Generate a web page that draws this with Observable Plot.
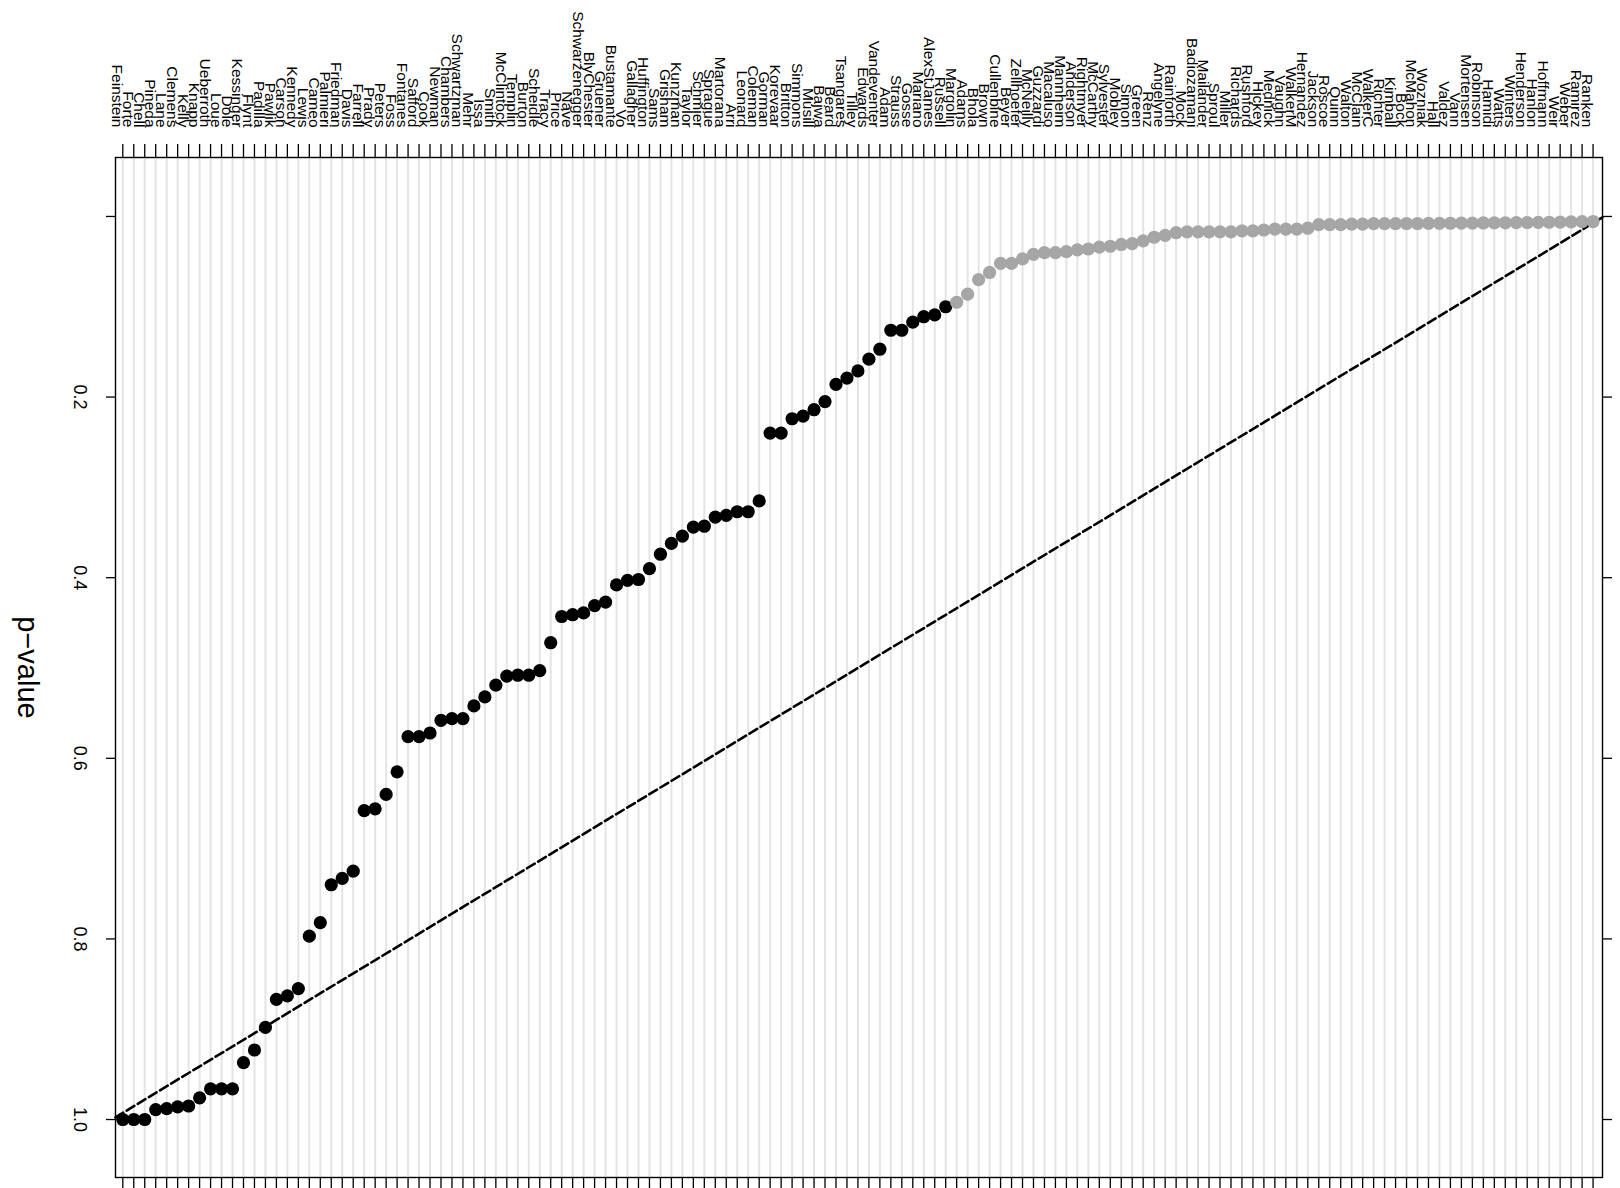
<!DOCTYPE html>
<html><head><meta charset="utf-8">
<script src="https://cdn.jsdelivr.net/npm/d3@7"></script>
<script src="https://cdn.jsdelivr.net/npm/@observablehq/plot@0.6"></script>
<style>html,body{margin:0;padding:0;background:#fff}#chart svg{display:block}</style>
</head><body><div id="chart"></div>
<script>
const candidates = ["Feinstein","Forte","Chell","Pineda","Lane","Clemens","Kelly","Knapp","Ueberroth","Loue",
"Dole","Kessinger","Flynt","Padilla","Pawlik","Carson","Kennedy","Lewis","Cameo","Palmieri",
"Friedman","Davis","Farrell","Prady","Peters","Foss","Fontanes","Safford","Cook","Newman",
"Chambers","Schwartzman","Mehr","Issa","Smith","McClintock","Templin","Burton","Scheidle","Tracy",
"Price","Nave","Schwarzenegger","BlyChester","Gruener","Bustamante","Vo","Gallagher","Huffington","Sams",
"Grisham","Kunzman","Taylor","Schmier","Sprague","Martorana","Arri","Leonard","Coleman","Gorman",
"Korevaar","Britton","Simmons","Musill","Bajwa","Beard","Tsangares","Tilley","Edwards","Vandeventer",
"Adam","Strauss","Gosse","Mariano","AlexStJames","Russell","Margolin","Adams","Bhola","Brown",
"Cullenbine","Beyer","Zellhoefer","McNeilly","Guzzardi","Macaluso","Mannheim","Anderson","Rightmyer","McCarthy",
"Sylvester","Mobley","Simon","Green","Renz","Angelyne","Rainforth","Mock","Badiozamani","Mailander",
"Sproul","Miller","Richards","Rushford","Hickey","Mednick","Vaughn","WalkerM","Hernandez","Jackson",
"Roscoe","Quinn","Walton","McClain","WalkerC","Richter","Kimball","Bock","McMahon","Wozniak",
"Hall","Valdez","Vann","Mortensen","Robinson","Hamidi","Watts","Winters","Henderson","Hanlon",
"Hoffmann","Weir","Weber","Ramirez","Ranken"];

const pvalues = [1.000,1.000,1.000,0.989,0.988,0.986,0.985,0.976,0.966,0.966,
0.966,0.937,0.923,0.898,0.867,0.863,0.855,0.797,0.782,0.740,
0.733,0.725,0.658,0.656,0.640,0.615,0.576,0.576,0.572,0.558,
0.556,0.556,0.542,0.532,0.519,0.509,0.508,0.508,0.503,0.472,
0.443,0.441,0.439,0.431,0.427,0.408,0.403,0.402,0.390,0.374,
0.362,0.354,0.344,0.343,0.333,0.331,0.327,0.327,0.315,0.240,
0.240,0.224,0.221,0.214,0.205,0.186,0.179,0.171,0.158,0.147,
0.126,0.126,0.117,0.111,0.109,0.100,0.095,0.086,0.070,0.062,
0.052,0.052,0.047,0.042,0.040,0.040,0.039,0.037,0.036,0.034,
0.033,0.031,0.030,0.027,0.023,0.021,0.018,0.017,0.017,0.017,
0.017,0.017,0.016,0.016,0.015,0.014,0.014,0.014,0.013,0.009,
0.009,0.009,0.0085,0.0085,0.0080,0.0080,0.0080,0.0078,0.0078,0.0077,
0.0076,0.0075,0.0074,0.0073,0.0072,0.0071,0.0070,0.0068,0.0067,0.0066,
0.0064,0.0062,0.0060,0.0058,0.0056];

const firstGray = "Margolin";
const yTicks = [0, 0.2, 0.4, 0.6, 0.8, 1.0];
const yTickLabels = ["", "0.2", "0.4", "0.6", "0.8", "1.0"];
const yLabel = "p\u2212value";

const n = candidates.length;
const grayStart = candidates.indexOf(firstGray);
const data = candidates.map((name, i) => ({i, name, p: pvalues[i], gray: i >= grayStart}));
const idx = d3.range(n);

const W = 1620, H = 1188;
const mL = 115, mR = 18, mT = 157, mB = 11;
const xDomain = [-0.665, n - 1 + 0.86];
const yDomain = [-0.0653, 1.0642];
// uniform reference quantiles, drawn across the whole panel
const refLine = xDomain.map(i => ({i, p: (n - i) / (n + 1)}));

const chart = Plot.plot({
  width: W, height: H,
  marginLeft: mL, marginRight: mR, marginTop: mT, marginBottom: mB,
  style: {fontFamily: "'Liberation Sans', Arial, Helvetica, sans-serif", background: "white", color: "black"},
  x: {type: "linear", domain: xDomain, axis: null, label: null},
  y: {type: "linear", domain: yDomain, range: [mT, H - mB], axis: null, label: null},
  marks: [
    Plot.ruleX(idx, {x: d => d, stroke: "#e4e4e4", strokeWidth: 2}),
    Plot.line(refLine, {x: "i", y: "p", stroke: "black", strokeWidth: 2.6, strokeDasharray: "9,4"}),
    Plot.dot(data, {x: "i", y: "p", r: 6.6, fill: d => d.gray ? "#a6a6a6" : "black"}),
    Plot.frame({stroke: "black", strokeWidth: 1.4}),
    Plot.axisX({anchor: "top", ticks: idx, tickSize: 14, tickFormat: () => "", label: null, strokeWidth: 1.3}),
    Plot.axisX({anchor: "bottom", ticks: idx, tickSize: 12, tickFormat: () => "", label: null, strokeWidth: 1.3}),
    Plot.axisY({anchor: "left", ticks: yTicks, tickSize: 9, tickFormat: () => "", label: null, strokeWidth: 1.3}),
    Plot.axisY({anchor: "right", ticks: yTicks, tickSize: 9, tickFormat: () => "", label: null, strokeWidth: 1.3}),
    Plot.text(data, {x: "i", text: "name", frameAnchor: "top", dy: -30, rotate: 90, textAnchor: "end", fontSize: 15.5, fill: "black"}),
    Plot.text(yTicks, {y: d => d, text: (d, i) => yTickLabels[i], frameAnchor: "left", dx: -36, rotate: 90, textAnchor: "middle", fontSize: 18, fill: "black"}),
    Plot.text([yLabel], {text: d => d, frameAnchor: "left", dx: -88, rotate: 90, textAnchor: "middle", fontSize: 29, fill: "black"})
  ]
});
document.getElementById("chart").appendChild(chart);
</script>
</body></html>
